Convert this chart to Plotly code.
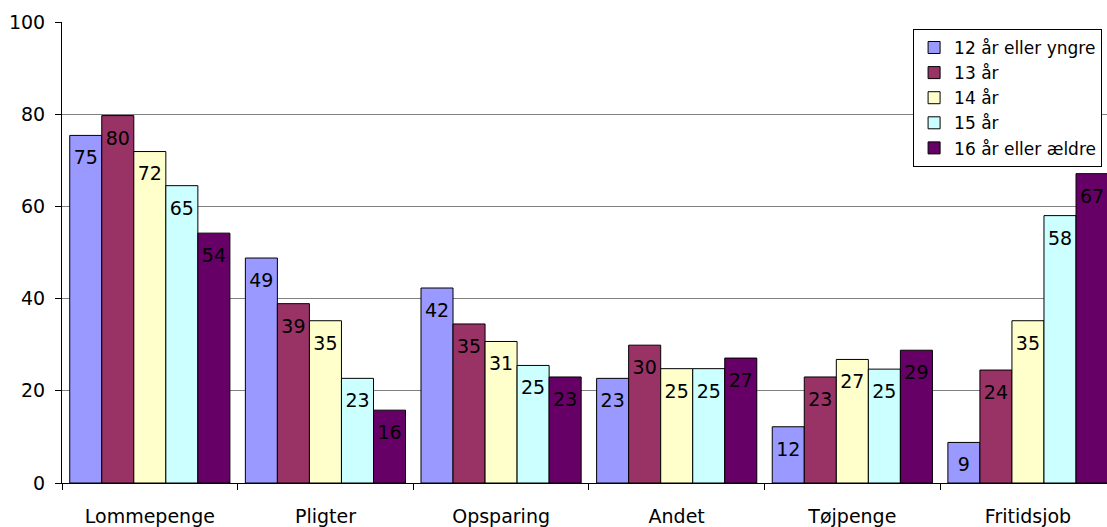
import plotly.graph_objects as go

categories = ["Lommepenge", "Pligter", "Opsparing", "Andet", "Tøjpenge", "Fritidsjob"]

series_names = ["12 år eller yngre", "13 år", "14 år", "15 år", "16 år eller ældre"]

vals_12 = [75.4, 48.8, 42.3, 22.7, 12.2, 8.8]
vals_13 = [79.7, 38.9, 34.5, 29.9, 23.0, 24.5]
vals_14 = [71.9, 35.2, 30.7, 24.8, 26.8, 35.2]
vals_15 = [64.5, 22.7, 25.5, 24.8, 24.7, 58.0]
vals_16 = [54.2, 15.8, 23.0, 27.1, 28.8, 67.1]

labels_12 = ["75", "49", "42", "23", "12", "9"]
labels_13 = ["80", "39", "35", "30", "23", "24"]
labels_14 = ["72", "35", "31", "25", "27", "35"]
labels_15 = ["65", "23", "25", "25", "25", "58"]
labels_16 = ["54", "16", "23", "27", "29", "67"]

colors = ["#9999FF", "#993366", "#FFFFCC", "#CCFFFF", "#660066"]

y_ticks = [0, 20, 40, 60, 80, 100]

FONT = "DejaVu Sans"

all_vals = [vals_12, vals_13, vals_14, vals_15, vals_16]
all_labels = [labels_12, labels_13, labels_14, labels_15, labels_16]

fig = go.Figure()
for i, (name, v, lab, c) in enumerate(zip(series_names, all_vals, all_labels, colors)):
    fig.add_trace(go.Bar(
        x=categories, y=v, name=name, text=lab,
        texttemplate="&nbsp;<br><span style='font-size:19px'>%{text}</span>",
        marker=dict(color=c, line=dict(color="black", width=1)),
        textposition="inside", insidetextanchor="end",
        textangle=0, constraintext="none",
        insidetextfont=dict(family=FONT, size=11.5, color="black"),
        legendgroup=f"g{i}",
        hoverinfo="skip",
    ))

W, H = 1107, 527
ml, mt, mb = 61.5, 22, 41
fig.update_layout(
    width=W, height=H,
    margin=dict(l=ml, r=0, t=mt, b=mb, pad=0),
    paper_bgcolor="white", plot_bgcolor="white",
    barmode="group", bargap=0.088, bargroupgap=0,
    font=dict(family=FONT, size=19, color="black"),
    showlegend=True,
    legend=dict(
        x=(913 - ml) / (W - ml), y=1 - (29 - mt) / (H - mt - mb),
        xanchor="left", yanchor="top",
        bordercolor="black", borderwidth=1, bgcolor="white",
        font=dict(family=FONT, size=17, color="black"),
        tracegroupgap=0,
    ),
    xaxis=dict(
        type="category", range=[-0.5, 5.45],
        showline=True, linecolor="black", linewidth=1,
        ticks="outside", tickson="boundaries", ticklen=6, tickcolor="black",
        ticklabelstandoff=16,
        tickfont=dict(family=FONT, size=19, color="black"),
        showgrid=False, zeroline=False, fixedrange=True,
    ),
    yaxis=dict(
        range=[0, 100], tickvals=y_ticks,
        showline=True, linecolor="black", linewidth=1,
        ticks="outside", ticklen=6, tickcolor="black",
        ticklabelstandoff=6,
        tickfont=dict(family=FONT, size=19, color="black"),
        showgrid=True, gridcolor="#808080", gridwidth=1,
        zeroline=False, fixedrange=True,
    ),
)

fig.write_html(
    "out.html",
    config={"displayModeBar": False},
    post_script="document.body.style.margin='0';document.body.style.overflow='hidden';",
)
